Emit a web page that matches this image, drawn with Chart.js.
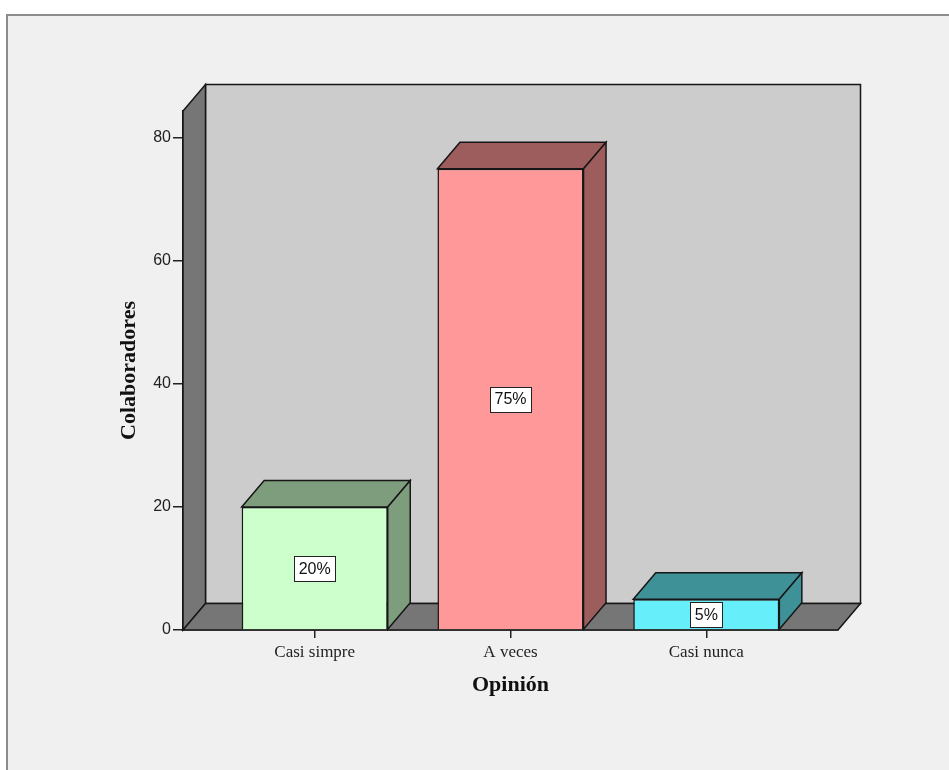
<!DOCTYPE html>
<html lang="es">
<head>
<meta charset="utf-8">
<title>Opinión de los colaboradores</title>
<script src="https://cdn.jsdelivr.net/npm/chart.js@4.4.1/dist/chart.umd.min.js"></script>
<style>
  html, body { margin: 0; padding: 0; background: #ffffff; }
  #wrap { position: relative; width: 949px; height: 770px; }
</style>
</head>
<body>
<div id="wrap"><canvas id="chart" width="949" height="770"></canvas></div>
<script>
// Respuestas por categoría de opinión
const categories = ["Casi simpre", "A veces", "Casi nunca"];
const counts = [20, 75, 5];
const yTicks = [0, 20, 40, 60, 80];

// Colores de cada barra: cara frontal y caras de profundidad
const frontColors = ["#ccffcc", "#ff9999", "#66eefa"];
const depthColors = ["#7d9d7d", "#9e5d5d", "#3d9197"];

const total = counts.reduce((a, b) => a + b, 0);
const points = counts.map((v, i) => ({ x: i, y: v }));

// Dibuja el marco del gráfico, las paredes 3D, las caras laterales y las etiquetas
const box3d = {
  id: 'box3d',
  beforeDraw(chart) {
    const ctx = chart.ctx;
    ctx.save();
    ctx.fillStyle = '#f0f0f0';
    ctx.fillRect(7, 14, chart.width, chart.height);
    ctx.strokeStyle = '#8c8c8c';
    ctx.lineWidth = 2;
    ctx.beginPath();
    ctx.moveTo(7, chart.height);
    ctx.lineTo(7, 15);
    ctx.lineTo(chart.width, 15);
    ctx.stroke();
    ctx.restore();
  },
  beforeDatasetsDraw(chart, args, opts) {
    const ctx = chart.ctx;
    const { left: L, right: R, top: T, bottom: B } = chart.chartArea;
    const dx = opts.dx, dy = opts.dy;
    ctx.save();
    ctx.lineWidth = 1.5;
    ctx.strokeStyle = '#161616';
    ctx.lineJoin = 'miter';
    const poly = (pts, fill) => {
      ctx.beginPath();
      ctx.moveTo(pts[0][0], pts[0][1]);
      for (let i = 1; i < pts.length; i++) ctx.lineTo(pts[i][0], pts[i][1]);
      ctx.closePath();
      ctx.fillStyle = fill;
      ctx.fill();
      ctx.stroke();
    };
    // pared del fondo
    poly([[L + dx, T + dy], [R + dx, T + dy], [R + dx, B + dy], [L + dx, B + dy]], '#cccccc');
    // pared izquierda
    poly([[L, B], [L, T], [L + dx, T + dy], [L + dx, B + dy]], '#767676');
    // suelo
    poly([[L, B], [R, B], [R + dx, B + dy], [L + dx, B + dy]], '#767676');
    ctx.restore();
  },
  afterDatasetsDraw(chart, args, opts) {
    const ctx = chart.ctx;
    const dx = opts.dx, dy = opts.dy;
    const meta = chart.getDatasetMeta(0);
    ctx.save();
    ctx.lineWidth = 1.5;
    ctx.strokeStyle = '#161616';
    ctx.lineJoin = 'miter';
    meta.data.forEach((bar, i) => {
      const { x, y, base, width } = bar.getProps(['x', 'y', 'base', 'width'], true);
      const l = x - width / 2, r = x + width / 2;
      ctx.fillStyle = depthColors[i];
      // cara superior
      ctx.beginPath();
      ctx.moveTo(l, y); ctx.lineTo(l + dx, y + dy); ctx.lineTo(r + dx, y + dy); ctx.lineTo(r, y);
      ctx.closePath(); ctx.fill(); ctx.stroke();
      // cara lateral derecha
      ctx.beginPath();
      ctx.moveTo(r, y); ctx.lineTo(r + dx, y + dy); ctx.lineTo(r + dx, base + dy); ctx.lineTo(r, base);
      ctx.closePath(); ctx.fill(); ctx.stroke();
    });
    // etiquetas de porcentaje en el centro de cada barra
    ctx.font = '16px "Liberation Sans", Arial, sans-serif';
    ctx.textAlign = 'center';
    ctx.textBaseline = 'middle';
    meta.data.forEach((bar, i) => {
      const { x, y, base } = bar.getProps(['x', 'y', 'base'], true);
      const text = Math.round(counts[i] / total * 100) + '%';
      const w = Math.round(ctx.measureText(text).width) + 9;
      const h = 25;
      const cy = (y + base) / 2;
      const bx = Math.round(x - w / 2) + 0.5, by = Math.round(cy - h / 2) + 0.5;
      ctx.fillStyle = '#ffffff';
      ctx.fillRect(bx, by, w, h);
      ctx.lineWidth = 1;
      ctx.strokeStyle = '#222222';
      ctx.strokeRect(bx, by, w, h);
      ctx.fillStyle = '#111111';
      ctx.fillText(text, x, cy + 1);
    });
    ctx.restore();
  }
};

new Chart(document.getElementById('chart'), {
  type: 'bar',
  data: {
    datasets: [{
      label: 'Colaboradores',
      data: points,
      backgroundColor: frontColors,
      borderColor: '#161616',
      borderWidth: 1.5,
      borderSkipped: 'bottom',
      barPercentage: 0.746,
      categoryPercentage: 1
    }]
  },
  options: {
    responsive: false,
    animation: false,
    events: [],
    layout: { padding: { top: 111, right: 111, bottom: 0, left: 0 } },
    plugins: {
      legend: { display: false },
      tooltip: { enabled: false },
      box3d: { dx: 22.5, dy: -26.5 }
    },
    scales: {
      x: {
        type: 'linear',
        offset: false,
        min: -0.6726,
        max: 2.6726,
        afterFit(scale) { scale.height = 140; },
        afterBuildTicks(scale) { scale.ticks = categories.map((_, i) => ({ value: i })); },
        grid: { display: true, offset: false, drawOnChartArea: false, drawTicks: true, tickLength: 8, color: '#222222', lineWidth: 1.5 },
        border: { display: true, color: '#161616', width: 1.5 },
        ticks: {
          autoSkip: false,
          maxRotation: 0,
          padding: 4,
          color: '#222222',
          font: { family: '"Liberation Serif", "Times New Roman", serif', size: 17 },
          callback: (v) => categories[v]
        },
        title: {
          display: true,
          text: 'Opinión',
          color: '#111111',
          font: { family: '"Liberation Serif", "Times New Roman", serif', size: 22, weight: 'bold' },
          padding: { top: 0, bottom: 71 }
        }
      },
      y: {
        type: 'linear',
        min: 0,
        max: 84.4,
        afterFit(scale) { scale.width = 183; },
        afterBuildTicks(scale) { scale.ticks = yTicks.map(v => ({ value: v })); },
        grid: { display: true, drawOnChartArea: false, drawTicks: true, tickLength: 10, color: '#222222', lineWidth: 1.5 },
        border: { display: true, color: '#161616', width: 1.5 },
        ticks: {
          padding: 2,
          color: '#222222',
          font: { family: '"Liberation Sans", Arial, sans-serif', size: 16 }
        },
        title: {
          display: true,
          text: 'Colaboradores',
          color: '#111111',
          font: { family: '"Liberation Serif", "Times New Roman", serif', size: 22, weight: 'bold' },
          padding: { top: 116, bottom: 0 }
        }
      }
    }
  },
  plugins: [box3d]
});
</script>
</body>
</html>
